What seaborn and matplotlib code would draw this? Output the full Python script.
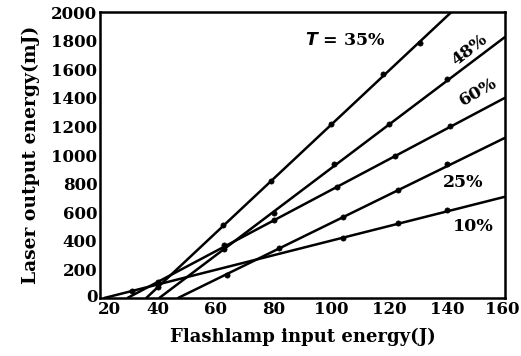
import matplotlib
matplotlib.use("Agg")
import matplotlib.pyplot as plt
import matplotlib.transforms as mtransforms
import seaborn as sns
import numpy as np

# ---- data ----
x_ticks = [20, 40, 60, 80, 100, 120, 140, 160]
y_ticks = [0, 200, 400, 600, 800, 1000, 1200, 1400, 1600, 1800, 2000]

t35_line_x = [36.0, 141.5]
t35_line_y = [0, 2000]
t35_pts_x = [40, 62.5, 79, 100, 118, 130.5]
t35_pts_y = [80, 510, 820, 1220, 1565, 1785]

t48_line_x = [40.5, 160]
t48_line_y = [0, 1825]
t48_pts_x = [63, 80, 101, 120, 140]
t48_pts_y = [345, 594, 940, 1220, 1530]

t60_line_x = [29.5, 160]
t60_line_y = [0, 1400]
t60_pts_x = [40, 63, 80, 102, 122, 141]
t60_pts_y = [110, 370, 545, 778, 995, 1205]

t25_line_x = [47.0, 160]
t25_line_y = [0, 1120]
t25_pts_x = [64, 82, 104, 123, 140]
t25_pts_y = [160, 352, 566, 757, 935]

t10_line_x = [21.5, 160]
t10_line_y = [0, 708]
t10_pts_x = [31, 40, 104, 123, 140]
t10_pts_y = [48, 95, 422, 525, 612]

labels = ["T = 35%", "48%", "60%", "25%", "10%"]
label_x = [104.7, 147.9, 150.7, 145.5, 149.0]
label_y = [1804, 1734, 1440, 811, 497]
label_rot = [0, 38, 30, 0, 0]

series = [
    (t35_line_x, t35_line_y, t35_pts_x, t35_pts_y),
    (t48_line_x, t48_line_y, t48_pts_x, t48_pts_y),
    (t60_line_x, t60_line_y, t60_pts_x, t60_pts_y),
    (t25_line_x, t25_line_y, t25_pts_x, t25_pts_y),
    (t10_line_x, t10_line_y, t10_pts_x, t10_pts_y),
]

sns.set_theme(style="white")
plt.rcParams['font.family'] = ['DejaVu Serif']
plt.rcParams['font.weight'] = 'bold'

fig = plt.figure(figsize=(5.21, 3.56), dpi=100)
ax = fig.add_axes([0.192, 0.163, 0.777, 0.803])

for lx, ly, px, py in series:
    sns.lineplot(x=lx, y=ly, ax=ax, color="black", linewidth=1.8,
                 estimator=None, sort=False)
    sns.scatterplot(x=px, y=py, ax=ax, color="black", s=14,
                    edgecolor="black", linewidth=0.5, zorder=3)

ax.set_xlim(20, 160)
ax.set_ylim(0, 2000)
ax.set_xticks(x_ticks)
ax.set_yticks(y_ticks)
ax.tick_params(direction="in", length=4, width=1.5, colors="black",
               labelsize=12, pad=2)
for lab in ax.get_xticklabels() + ax.get_yticklabels():
    lab.set_fontweight("bold")

# nudge corner tick labels as in the reference
def nudge(lab, dx, dy):
    lab.set_transform(lab.get_transform() +
                      mtransforms.ScaledTranslation(dx/100, dy/100, fig.dpi_scale_trans))

xl = ax.get_xticklabels()
nudge(xl[0], 9, 0)
nudge(xl[-1], -3, 0)
yl = ax.get_yticklabels()
nudge(yl[0], 0, 2)

for sp in ax.spines.values():
    sp.set_color("black")
    sp.set_linewidth(1.8)

ax.set_xlabel("Flashlamp input energy(J)", fontsize=13, fontweight="bold",
              labelpad=7, color="black")
ax.set_ylabel("Laser output energy(mJ)", fontsize=13.5, fontweight="bold",
              labelpad=8, color="black")

for i, (t, x, y, r) in enumerate(zip(labels, label_x, label_y, label_rot)):
    if i == 0:
        ax.text(x, y, r"$\mathit{T}$ = 35%", ha="center", va="center",
                fontsize=12.5, fontweight="bold", rotation=r, color="black")
    else:
        ax.text(x, y, t, ha="center", va="center", fontsize=12.5,
                fontweight="bold", rotation=r, color="black")

fig.savefig("out.png", dpi=100)
